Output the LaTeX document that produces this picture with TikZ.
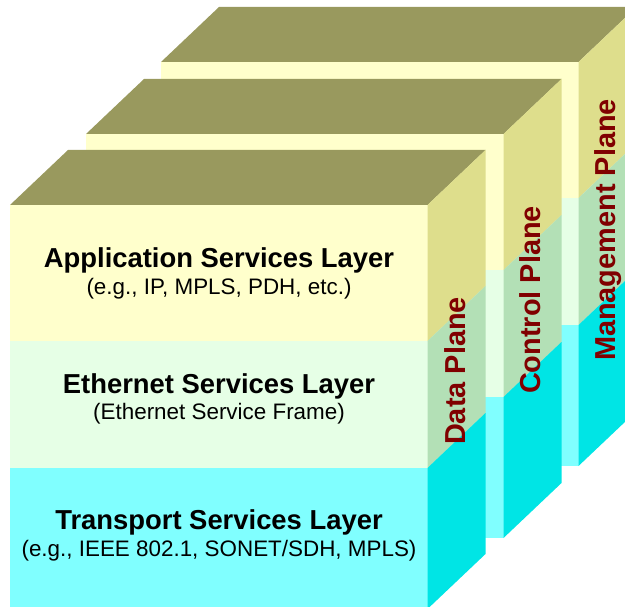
\documentclass[tikz,border=0pt]{standalone}
\usepackage{fontspec}
\setmainfont{Liberation Sans}
\definecolor{topc}{RGB}{153,153,94}
\definecolor{fy}{RGB}{255,255,204}
\definecolor{sy}{RGB}{222,222,140}
\definecolor{fg}{RGB}{230,255,230}
\definecolor{sg}{RGB}{179,224,182}
\definecolor{fc}{RGB}{128,255,255}
\definecolor{sc}{RGB}{0,229,229}
\definecolor{lblred}{RGB}{128,0,0}
\newcommand\planebox[2]{%
  \def\W{417.5}\def\H{404}\def\DX{58}\def\DY{55}\def\LA{136}\def\LB{263}%
  \fill[topc] (#1,#2) -- ++(\DX,-\DY) -- ++(\W,0) -- ++(-\DX,\DY) -- cycle;
  \fill[fy] (#1,#2) rectangle ++(\W,\LA);
  \fill[fg] (#1,#2+\LA) rectangle ++(\W,\LB-\LA);
  \fill[fc] (#1,#2+\LB) rectangle ++(\W,\H-\LB);
  \fill[sy] (#1+\W,#2) -- ++(\DX,-\DY) -- ++(0,\LA) -- ++(-\DX,\DY) -- cycle;
  \fill[sg] (#1+\W,#2+\LA) -- ++(\DX,-\DY) -- ++(0,\LB-\LA) -- ++(-\DX,\DY) -- cycle;
  \fill[sc] (#1+\W,#2+\LB) -- ++(\DX,-\DY) -- ++(0,\H-\LB) -- ++(-\DX,\DY) -- cycle;
}
\tikzset{
  mainlbl/.style={font=\fontsize{27.5}{30}\selectfont\bfseries, inner sep=0pt, text height=19.7pt, text depth=0pt},
  sublbl/.style={font=\fontsize{22.5}{26}\selectfont, inner sep=0pt, text height=16.2pt, text depth=0pt},
  planelbl/.style={font=\fontsize{29}{32}\selectfont\bfseries, text=lblred, rotate=90, inner sep=0pt, text height=20.8pt, text depth=0pt}
}
\begin{document}
\begin{tikzpicture}[x=1bp,y=-1bp]
\useasboundingbox (0,0) rectangle (625,607);
\clip (0,0) rectangle (625,607);
\planebox{161}{62}
\planebox{86}{134}
\planebox{10}{205}
\node[mainlbl] (app) at (219,258) {Application Services Layer};
\node[sublbl] (appsub) at (219,286) {(e.g., IP, MPLS, PDH, etc.)};
\node[mainlbl] (eth) at (219,384) {Ethernet Services Layer};
\node[sublbl] (ethsub) at (219,411) {(Ethernet Service Frame)};
\node[mainlbl] (trn) at (219,520) {Transport Services Layer};
\node[sublbl] (trnsub) at (219,548) {(e.g., IEEE 802.1, SONET/SDH, MPLS)};
\node[planelbl] (data) at (455,371) {Data Plane};
\node[planelbl] (ctrl) at (530,300) {Control Plane};
\node[planelbl] (mgmt) at (605,230) {Management Plane};
\end{tikzpicture}
\end{document}
